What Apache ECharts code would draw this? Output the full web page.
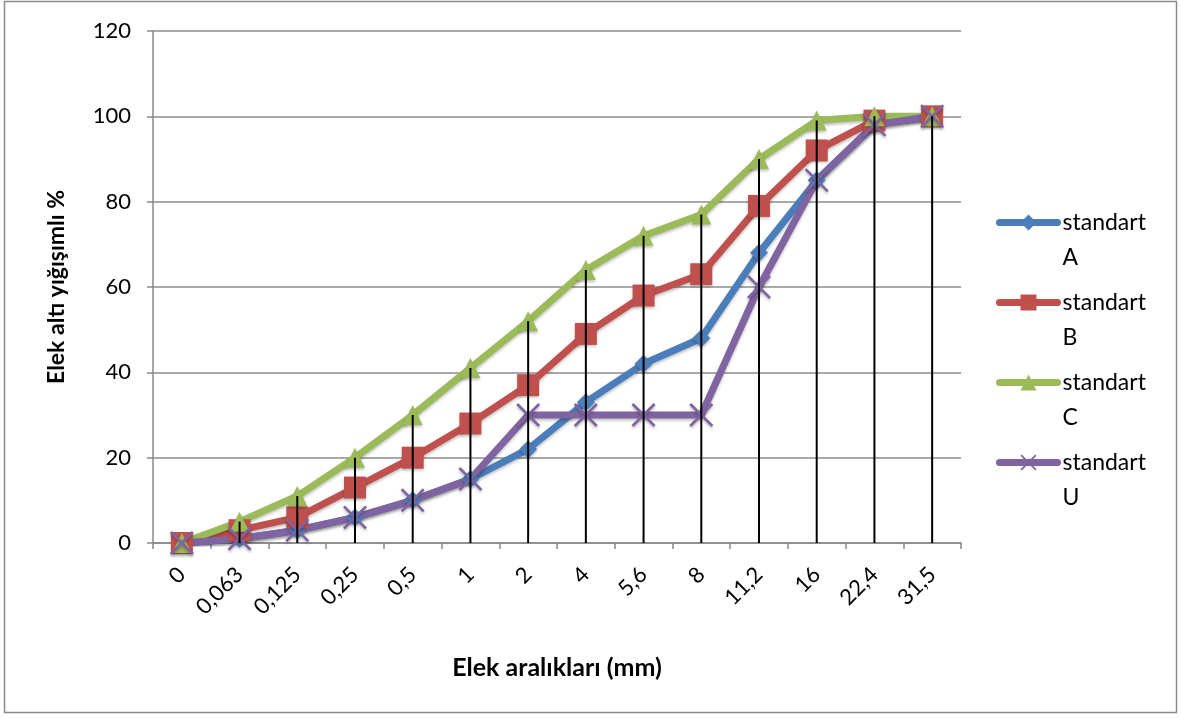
<!DOCTYPE html>
<html>
<head>
<meta charset="utf-8">
<script src="https://cdn.jsdelivr.net/npm/echarts@6/dist/echarts.min.js"></script>
<style>
html,body{margin:0;padding:0;background:#fff;}
#c{width:1181px;height:718px;}
</style>
</head>
<body>
<div id="c"></div>
<script>
const categories = ['0','0,063','0,125','0,25','0,5','1','2','4','5,6','8','11,2','16','22,4','31,5'];
const standartA = [0, 1, 3, 6, 10, 15, 22, 33, 42, 48, 68, 85, 98, 100];
const standartB = [0, 3, 6, 13, 20, 28, 37, 49, 58, 63, 79, 92, 99, 100];
const standartC = [0, 5, 11, 20, 30, 41, 52, 64, 72, 77, 90, 99, 100, 100];
const standartU = [0, 1, 3, 6, 10, 15, 30, 30, 30, 30, 60, 85, 98, 100];
const yTicks = {min: 0, max: 120, interval: 20};

const dropTop = categories.map((_, i) => Math.max(standartA[i], standartB[i], standartC[i], standartU[i]));

const FONT = 'Lato, "Open Sans", "Liberation Sans", sans-serif';
const xSym = 'path://M0,1.6 L1.6,0 L10,8.4 L18.4,0 L20,1.6 L11.6,10 L20,18.4 L18.4,20 L10,11.6 L1.6,20 L0,18.4 L8.4,10 Z';

function lineSeries(name, data, color, symbol, size) {
  return {
    name: name, type: 'line', data: data,
    symbol: symbol, symbolSize: size,
    lineStyle: {color: color, width: 7, shadowColor: 'rgba(0,0,0,0.25)', shadowBlur: 3, shadowOffsetY: 2},
    itemStyle: {color: color, shadowColor: 'rgba(0,0,0,0.25)', shadowBlur: 3, shadowOffsetY: 2},
    emphasis: {disabled: true}, animation: false, z: 3
  };
}

const chart = echarts.init(document.getElementById('c'), null, {renderer: 'canvas'});
chart.setOption({
  backgroundColor: '#fff',
  animation: false,
  textStyle: {fontFamily: FONT},
  graphic: [{
    type: 'rect', shape: {x: 4.5, y: 1.5, width: 1172, height: 711},
    style: {fill: 'none', stroke: '#8a8a8a', lineWidth: 1.5}, silent: true
  }],
  grid: {left: 153, right: 220, top: 31, bottom: 175},
  legend: {
    orient: 'vertical', left: 991, top: 165,
    data: ['standart A', 'standart B', 'standart C', 'standart U'],
    itemWidth: 58, itemHeight: 20, itemGap: -25,
    lineStyle: {width: 7, cap: 'round'},
    formatter: n => '\n' + n.replace(' ', '\n'),
    textStyle: {fontFamily: FONT, fontSize: 23, color: '#000', lineHeight: 35}
  },
  xAxis: {
    type: 'category', data: categories, boundaryGap: true,
    name: 'Elek aralıkları (mm)', nameLocation: 'middle', nameGap: 112,
    nameTextStyle: {fontFamily: FONT, fontSize: 25, fontWeight: 'bold', color: '#000'},
    axisLine: {lineStyle: {color: '#888', width: 1.5}},
    axisTick: {show: true, length: 6, lineStyle: {color: '#888', width: 1.5}},
    axisLabel: {rotate: 45, fontSize: 22, color: '#000', margin: 28, fontFamily: FONT, interval: 0},
    splitLine: {show: false}
  },
  yAxis: {
    type: 'value', min: yTicks.min, max: yTicks.max, interval: yTicks.interval,
    name: 'Elek altı yığışımlı %', nameLocation: 'middle', nameGap: 85,
    nameTextStyle: {fontFamily: FONT, fontSize: 23, fontWeight: 'bold', color: '#000'},
    axisLine: {show: true, lineStyle: {color: '#888', width: 1.5}},
    axisTick: {show: true, length: 6, lineStyle: {color: '#888', width: 1.5}},
    axisLabel: {fontSize: 22, color: '#000', margin: 22, fontFamily: FONT},
    splitLine: {lineStyle: {color: '#8c8c8c', width: 1.5}}
  },
  series: [
    lineSeries('standart A', standartA, '#4A7EBB', 'diamond', 18),
    lineSeries('standart B', standartB, '#C0504D', 'rect', 22),
    lineSeries('standart C', standartC, '#9BBB59', 'triangle', 20),
    lineSeries('standart U', standartU, '#8064A2', xSym, 24),
    {
      name: 'drop', type: 'bar', data: dropTop, barWidth: 2,
      itemStyle: {color: '#000'}, z: 5, silent: true, emphasis: {disabled: true}
    }
  ]
});
</script>
</body>
</html>
